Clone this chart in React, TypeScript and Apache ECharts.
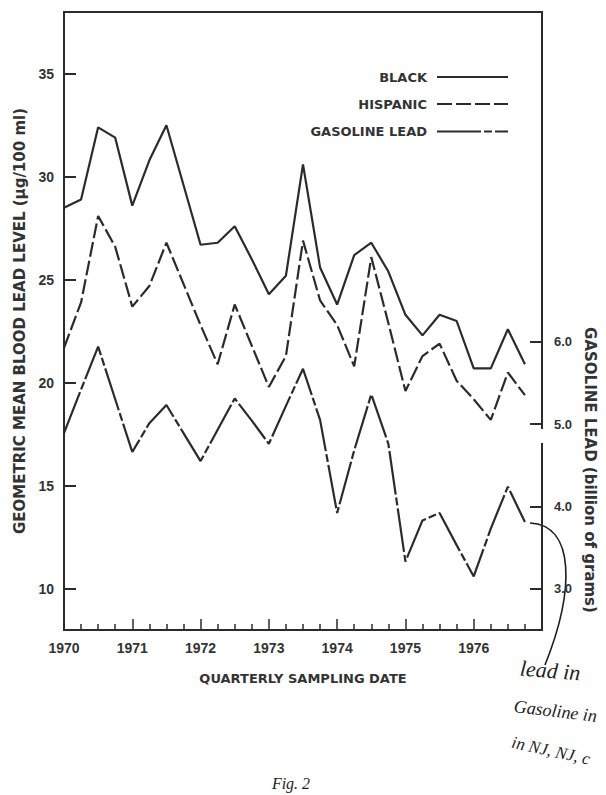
import React, { useEffect, useRef } from 'react';
import * as echarts from 'echarts';

// Quarterly sampling dates (1970 Q1 ... 1976 Q4)
const quarterDates = [
  1970.0, 1970.25, 1970.5, 1970.75,
  1971.0, 1971.25, 1971.5, 1971.75,
  1972.0, 1972.25, 1972.5, 1972.75,
  1973.0, 1973.25, 1973.5, 1973.75,
  1974.0, 1974.25, 1974.5, 1974.75,
  1975.0, 1975.25, 1975.5, 1975.75,
  1976.0, 1976.25, 1976.5, 1976.75,
];

// Geometric mean blood lead level (µg/100 ml)
const blackLevels = [
  28.5, 28.9, 32.4, 31.9, 28.6, 30.8, 32.5, 29.6,
  26.7, 26.8, 27.6, 26.0, 24.3, 25.2, 30.6, 25.6,
  23.8, 26.2, 26.8, 25.4, 23.3, 22.3, 23.3, 23.0,
  20.7, 20.7, 22.6, 20.9,
];
const hispanicLevels = [
  21.7, 23.9, 28.1, 26.6, 23.7, 24.7, 26.8, 24.8,
  22.8, 20.9, 23.8, 21.8, 19.8, 21.3, 26.9, 24.0,
  22.8, 20.8, 26.1, 22.9, 19.6, 21.3, 21.9, 20.1,
  19.2, 18.2, 20.5, 19.4,
];
// Gasoline lead (billion of grams)
const gasolineLead = [
  4.89, 5.42, 5.94, 5.30, 4.66, 5.01, 5.23, 4.89,
  4.55, 4.93, 5.31, 5.04, 4.76, 5.22, 5.67, 5.05,
  3.92, 4.68, 5.36, 4.76, 3.33, 3.83, 3.92, 3.53,
  3.15, 3.73, 4.24, 3.81,
];

const yearLabels = [1970, 1971, 1972, 1973, 1974, 1975, 1976];
const bloodTicks = [10, 15, 20, 25, 30, 35];
const gasTicks = [3, 4, 5, 6];

const legendNames = ['BLACK', 'HISPANIC', 'GASOLINE LEAD'];

export default function App() {
  const ref = useRef<HTMLDivElement>(null);

  useEffect(() => {
    if (!ref.current) return;
    const chart = echarts.init(ref.current, null, { renderer: 'svg' });
    const ink = '#2b2b2b';
    const textInk = '#333333';
    const pair = (ys: number[]) => quarterDates.map((x, i) => [x, ys[i]]);
    const dashes: any[] = ['solid', [15, 4], [44, 3, 8, 3]];
    const legendY = [77, 104, 131.5];

    const legendEls: any[] = [];
    legendNames.forEach((n, i) => {
      legendEls.push({
        type: 'text',
        x: 427,
        y: legendY[i],
        style: {
          text: n,
          align: 'right',
          verticalAlign: 'middle',
          fontFamily: 'DejaVu Sans',
          fontWeight: 'bold',
          fontSize: 13,
          fill: textInk,
        },
      });
      legendEls.push({
        type: 'line',
        shape: { x1: 437, y1: legendY[i], x2: 508, y2: legendY[i] },
        style: {
          stroke: ink,
          lineWidth: 2,
          lineDash: dashes[i] === 'solid' ? null : dashes[i],
        },
      });
    });

    const hand = {
      fontFamily: 'Liberation Serif',
      fontStyle: 'italic',
      fill: '#1e1e1e',
    };

    chart.setOption({
      animation: false,
      backgroundColor: '#ffffff',
      grid: {
        left: 64,
        right: 64,
        top: 12,
        bottom: 165,
        show: true,
        borderColor: ink,
        borderWidth: 2,
        outerBoundsMode: 'none',
      },
      xAxis: {
        type: 'value',
        min: 1970,
        max: 1977,
        interval: 1,
        name: 'QUARTERLY SAMPLING DATE',
        nameLocation: 'middle',
        nameGap: 42,
        nameTextStyle: {
          fontFamily: 'DejaVu Sans',
          fontWeight: 'bold',
          fontSize: 13,
          color: textInk,
        },
        axisLine: { show: true, lineStyle: { color: ink, width: 2 } },
        axisTick: { show: true, inside: true, length: 11, lineStyle: { color: ink, width: 1.5 } },
        minorTick: { show: true, splitNumber: 4, length: 6, lineStyle: { color: ink, width: 1.5 } },
        axisLabel: {
          margin: 11,
          fontFamily: 'Liberation Sans',
          fontWeight: 'bold',
          fontSize: 14,
          color: textInk,
          formatter: (v: number) => (yearLabels.includes(v) ? String(v) : ''),
        },
        splitLine: { show: false },
        minorSplitLine: { show: false },
      },
      yAxis: [
        {
          type: 'value',
          position: 'left',
          min: 8,
          max: 38,
          name: 'GEOMETRIC MEAN BLOOD LEAD LEVEL (µg/100 ml)',
          nameLocation: 'middle',
          nameGap: 36,
          nameTextStyle: {
            fontFamily: 'DejaVu Sans',
            fontWeight: 'bold',
            fontSize: 15,
            color: textInk,
          },
          axisLine: { show: true, lineStyle: { color: ink, width: 2 } },
          axisTick: {
            show: true,
            inside: true,
            length: 12,
            customValues: bloodTicks,
            lineStyle: { color: ink, width: 2 },
          },
          axisLabel: {
            margin: 10,
            customValues: bloodTicks,
            fontFamily: 'Liberation Sans',
            fontWeight: 'bold',
            fontSize: 14,
            color: textInk,
          },
          splitLine: { show: false },
        },
        {
          type: 'value',
          position: 'right',
          min: 2.5,
          max: 10,
          axisLine: { show: true, lineStyle: { color: ink, width: 2 } },
          axisTick: {
            show: true,
            inside: true,
            length: 12,
            customValues: gasTicks,
            lineStyle: { color: ink, width: 2 },
          },
          axisLabel: {
            margin: 12,
            customValues: gasTicks,
            fontFamily: 'Liberation Sans',
            fontWeight: 'bold',
            fontSize: 13,
            color: textInk,
            formatter: (v: number) => v.toFixed(1),
          },
          splitLine: { show: false },
        },
      ],
      series: [
        {
          name: legendNames[0],
          type: 'line',
          yAxisIndex: 0,
          data: pair(blackLevels),
          symbol: 'none',
          lineStyle: { color: ink, width: 2.2, type: dashes[0] },
        },
        {
          name: legendNames[1],
          type: 'line',
          yAxisIndex: 0,
          data: pair(hispanicLevels),
          symbol: 'none',
          lineStyle: { color: ink, width: 2.2, type: dashes[1] },
        },
        {
          name: legendNames[2],
          type: 'line',
          yAxisIndex: 1,
          data: pair(gasolineLead),
          symbol: 'none',
          lineStyle: { color: ink, width: 2.2, type: dashes[2] },
        },
      ],
      graphic: {
        elements: [
          ...legendEls,
          {
            type: 'text',
            x: 590,
            y: 470,
            rotation: -Math.PI / 2,
            style: {
              text: 'GASOLINE LEAD (billion of grams)',
              align: 'center',
              verticalAlign: 'middle',
              fontFamily: 'DejaVu Sans',
              fontWeight: 'bold',
              fontSize: 15,
              fill: textInk,
            },
          },
          {
            type: 'rect',
            z: 100,
            shape: { x: 538, y: 429, width: 9, height: 14 },
            style: { fill: '#ffffff' },
          },
          {
            type: 'bezierCurve',
            shape: { x1: 530, y1: 523, cpx1: 575, cpy1: 525, cpx2: 575, cpy2: 590, x2: 545, y2: 665 },
            style: { stroke: '#1e1e1e', lineWidth: 1.6, fill: null },
          },
          {
            type: 'text',
            x: 520,
            y: 668,
            rotation: -0.08,
            style: { ...hand, text: 'lead in', fontSize: 22, verticalAlign: 'middle' },
          },
          {
            type: 'text',
            x: 514,
            y: 706,
            rotation: -0.12,
            style: { ...hand, text: 'Gasoline in', fontSize: 18, verticalAlign: 'middle' },
          },
          {
            type: 'text',
            x: 512,
            y: 742,
            rotation: -0.22,
            style: { ...hand, text: 'in NJ, NJ, c', fontSize: 17, verticalAlign: 'middle' },
          },
          {
            type: 'text',
            x: 291,
            y: 783,
            style: { ...hand, text: 'Fig. 2', fontSize: 16, align: 'center', verticalAlign: 'middle' },
          },
        ],
      },
    });

    return () => {
      chart.dispose();
    };
  }, []);

  return (
    <div
      ref={ref}
      style={{ position: 'fixed', left: 0, top: 0, width: 606, height: 795, background: '#ffffff' }}
    />
  );
}
